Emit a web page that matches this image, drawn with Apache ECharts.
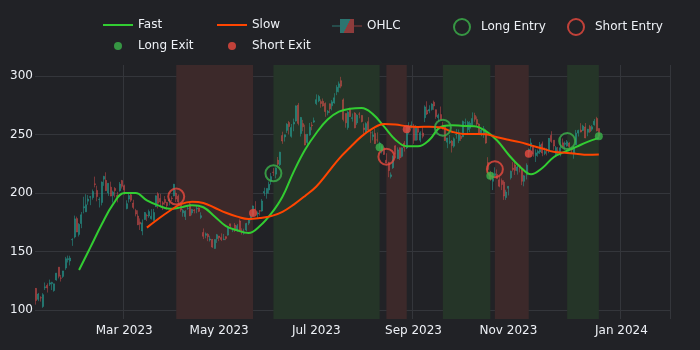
<!DOCTYPE html>
<html>
<head>
<meta charset="utf-8">
<script src="https://cdn.jsdelivr.net/npm/echarts@6/dist/echarts.min.js"></script>
<style>
  html, body { margin: 0; padding: 0; background: #212226; }
  #chart { width: 700px; height: 350px; }
</style>
</head>
<body>
<div id="chart"></div>
<script>
// daily OHLC, one entry per trading day (index 0 = first session)
const opens = [
  118.5,109.1,110.5,103.0,119.0,121.1,122.1,122.6,116.6,125.7,
  136.6,127.3,128.7,135.9,143.0,141.9,160.0,162.4,178.1,164.6,
  173.9,187.3,183.9,193.0,196.4,196.1,207.8,202.2,194.4,191.9,
  211.8,210.8,200.0,205.0,197.9,203.9,197.9,202.0,210.6,206.2,
  186.7,194.8,198.5,191.4,185.0,180.3,175.1,167.5,177.3,180.8,
  180.4,178.1,176.5,188.3,199.3,195.3,191.7,194.4,192.0,193.1,
  195.6,197.5,199.9,197.3,190.5,183.1,179.9,186.7,190.7,183.0,
  185.4,186.3,187.2,179.1,166.2,163.8,164.7,159.8,160.3,152.6,
  160.9,163.2,161.9,160.0,162.7,164.0,173.7,169.0,172.6,168.7,
  176.1,167.7,165.6,168.4,174.2,177.2,180.7,186.2,182.1,184.9,
  184.6,200.1,199.8,202.6,210.2,217.8,216.1,228.0,224.2,249.1,
  247.9,253.5,260.2,248.4,258.9,261.5,275.1,250.8,259.3,250.1,
  243.2,249.7,258.0,260.6,276.5,278.8,278.1,278.4,276.5,268.6,
  276.3,274.6,277.0,286.6,290.2,296.0,279.6,268.0,255.9,272.4,
  263.7,268.3,259.9,267.5,266.3,255.6,252.0,261.0,251.5,248.2,
  250.9,245.4,241.8,235.7,238.7,228.0,226.1,214.1,221.6,240.3,
  229.3,238.7,231.3,242.6,238.6,254.2,256.0,257.3,245.0,255.1,
  245.1,251.2,264.3,270.8,270.1,271.3,277.6,271.2,264.4,267.0,
  257.9,257.4,243.4,243.0,244.3,240.0,250.0,244.8,248.6,248.1,
  260.0,254.0,255.3,257.8,266.2,262.9,258.9,250.1,250.1,252.7,
  226.0,217.0,210.0,215.0,215.9,211.3,210.6,209.3,196.1,204.0,
  213.0,221.2,224.0,219.0,223.2,219.8,210.0,215.6,235.0,239.3,
  239.5,232.0,234.0,235.0,242.0,233.8,236.9,236.7,249.2,245.1,
  233.1,235.8,233.9,242.9,241.6,240.3,242.7,238.6,234.1,241.2,
  251.2,253.8,253.5,256.4,251.9,256.8,254.5,258.4,263.7,255.1
];
const highs = [
  118.8,114.6,111.8,114.4,123.5,122.8,126.0,124.1,122.6,131.7,
  136.7,130.0,133.5,145.4,146.5,146.4,161.4,180.7,179.8,174.3,
  183.8,196.8,199.0,198.2,197.5,203.0,214.0,206.2,196.3,209.8,
  214.7,217.7,208.4,209.7,202.0,205.1,201.0,209.4,211.2,207.2,
  193.8,200.5,199.6,194.2,186.5,185.2,178.3,177.4,183.8,182.3,
  185.8,186.2,186.4,198.0,200.7,199.3,193.0,197.4,192.4,195.3,
  197.3,207.8,202.7,198.7,190.7,186.4,185.3,189.2,191.6,186.5,
  186.3,189.7,187.7,183.5,169.7,166.3,165.7,163.5,160.7,160.5,
  165.0,163.3,165.5,165.0,163.0,170.8,173.8,169.8,174.4,173.6,
  177.4,169.8,169.5,174.5,177.1,181.9,189.3,193.0,184.2,185.3,
  194.8,204.5,204.0,209.8,217.2,221.3,221.9,230.8,235.2,252.4,
  250.0,259.7,261.6,259.0,263.6,274.8,277.0,265.0,262.5,258.4,
  250.4,259.9,260.7,264.5,284.3,283.9,280.0,280.8,277.5,270.9,
  276.5,279.5,285.3,292.2,295.3,299.3,280.9,268.0,269.9,272.9,
  268.0,269.1,267.3,269.1,266.5,259.5,260.5,264.8,253.7,252.8,
  254.9,251.8,243.8,240.7,240.5,234.0,226.7,217.6,232.1,240.8,
  239.0,238.9,239.0,244.4,257.5,260.5,261.2,259.1,258.0,255.4,
  252.8,256.5,274.9,278.4,275.0,276.7,279.0,271.4,267.9,273.9,
  260.9,257.8,247.1,249.6,245.3,247.6,254.8,254.3,250.0,261.9,
  263.6,261.7,261.4,268.9,268.6,265.4,259.6,255.4,257.2,254.6,
  230.6,218.9,217.0,222.0,220.1,214.8,212.4,210.9,202.8,206.0,
  219.2,226.4,226.3,223.1,224.2,220.8,215.4,225.4,238.1,246.7,
  240.9,237.4,237.1,243.6,244.0,238.8,238.3,247.0,252.8,245.2,
  240.2,239.4,246.7,246.6,244.1,245.3,243.4,239.0,240.3,253.9,
  254.1,259.7,258.3,259.8,254.8,258.2,258.0,263.3,265.1,255.2
];
const lows = [
  104.6,107.5,107.2,101.8,117.1,114.9,120.5,117.0,115.6,125.0,
  127.0,124.3,127.4,134.3,140.6,138.1,154.8,161.2,166.5,162.8,
  169.9,182.6,183.7,189.9,189.6,194.3,204.8,192.9,187.6,189.4,
  206.1,201.8,197.5,197.2,191.8,196.3,192.0,201.1,203.8,198.5,
  186.0,191.8,192.3,186.1,180.0,172.5,168.4,163.9,177.1,176.0,
  178.8,177.3,176.4,188.0,186.8,188.7,185.4,189.9,185.7,189.4,
  193.1,197.2,192.2,190.3,183.8,179.7,176.9,185.6,180.3,180.9,
  182.6,182.7,183.6,177.7,160.6,161.3,158.8,158.5,153.1,152.4,
  157.3,158.8,158.9,159.9,159.7,163.5,169.2,166.6,166.7,166.8,
  167.2,164.5,164.4,167.2,172.5,176.6,180.1,185.3,178.2,180.7,
  184.1,197.5,195.1,199.4,207.1,214.5,212.5,223.3,223.0,242.0,
  244.0,251.3,250.0,247.3,252.8,261.1,257.8,248.3,252.8,240.7,
  240.6,248.9,253.6,259.9,275.1,277.6,272.9,273.8,265.1,266.4,
  268.3,270.6,276.3,283.6,286.0,289.5,261.2,255.8,254.1,265.0,
  261.0,255.3,258.2,263.8,260.3,250.5,252.0,253.1,242.8,245.0,
  241.9,243.1,238.0,233.8,232.6,225.4,213.5,212.4,220.6,229.6,
  229.3,228.2,230.4,235.4,237.6,250.6,255.1,242.0,244.9,245.1,
  243.3,246.7,260.6,266.6,268.1,270.4,271.0,263.4,261.2,262.5,
  254.2,244.5,238.3,241.7,234.6,238.7,246.4,242.6,244.5,247.6,
  256.3,250.6,252.0,257.6,260.9,256.6,250.2,248.5,247.1,242.1,
  216.8,210.4,202.5,214.1,212.2,204.9,202.5,194.1,194.1,197.9,
  211.5,218.4,215.4,215.7,217.6,206.7,205.7,211.6,230.7,236.5,
  231.0,226.5,231.0,233.3,231.4,232.3,232.1,234.0,242.8,236.9,
  231.9,233.3,231.3,239.2,236.9,239.6,237.4,233.9,229.3,240.8,
  248.3,251.8,253.0,246.8,248.5,251.4,252.9,257.5,252.7,247.4
];
const closes = [
  108.1,113.6,110.3,113.1,119.8,118.9,123.2,123.6,122.4,131.5,
  128.8,127.2,133.4,143.8,143.9,144.4,160.3,177.9,166.7,173.2,
  181.4,188.3,190.0,194.8,196.8,201.3,207.3,196.9,194.6,209.3,
  214.2,202.0,208.3,197.4,200.9,202.1,196.9,207.6,205.7,202.8,
  190.9,197.8,193.8,187.7,182.0,172.9,173.4,174.5,183.3,180.5,
  184.1,180.1,183.3,197.6,191.2,192.2,190.4,191.8,189.2,193.9,
  195.3,207.5,194.8,192.6,185.5,185.1,184.5,186.8,180.5,185.9,
  185.0,187.0,184.3,180.6,163.0,165.1,162.6,160.7,153.8,160.2,
  164.3,161.8,160.3,160.6,161.2,170.1,171.8,169.2,168.5,172.1,
  168.0,166.4,166.5,173.9,176.9,180.1,188.9,185.8,182.9,184.5,
  193.2,201.2,203.9,207.5,214.0,217.6,221.3,224.6,234.9,244.4,
  249.8,258.7,256.8,255.9,260.5,274.5,259.5,264.6,256.6,241.1,
  250.2,256.2,257.5,261.8,279.8,282.5,276.5,274.4,269.6,269.8,
  272.0,277.9,281.4,290.4,293.3,291.3,262.9,260.0,269.1,265.3,
  264.4,255.7,266.4,267.4,261.1,254.1,259.3,253.9,251.5,249.7,
  242.2,245.3,242.7,239.8,233.0,225.6,219.2,215.5,231.3,233.2,
  236.9,230.0,238.6,238.8,257.2,256.9,258.1,245.0,256.5,251.9,
  251.5,248.5,273.6,267.5,271.3,276.0,274.4,265.3,266.5,262.6,
  255.7,244.9,247.0,244.1,240.5,246.4,250.2,251.6,246.5,261.2,
  260.1,260.5,259.7,263.6,263.0,258.9,251.1,253.9,254.9,242.7,
  220.1,212.0,212.1,216.5,212.4,205.8,207.3,197.4,200.8,205.7,
  218.5,220.0,219.3,222.2,222.1,210.0,214.7,223.7,237.4,242.8,
  233.6,234.3,235.6,241.2,234.2,235.5,236.1,246.7,244.1,240.1,
  238.8,235.6,238.7,239.4,242.6,243.8,239.7,237.0,239.3,251.1,
  253.5,252.1,257.2,247.1,254.5,252.5,256.6,261.4,253.2,248.5
];

// moving averages read every 5th session
const maDays = [19,24,29,34,39,44,49,54,59,64,69,74,79,84,89,94,99,104,109,114,119,124,
  129,134,139,144,149,154,159,164,169,174,179,184,189,194,199,204,209,214,219,224,229,234,239,244,249];
const fastMa = [134.2,153.5,173.0,190.3,199.9,200.0,193.7,189.4,186.5,187.7,189.6,187.8,180.0,171.7,
  168.1,165.7,171.7,182.3,196.8,218.3,237.0,251.3,262.8,269.5,272.1,272.6,267.4,256.7,245.6,239.9,
  239.9,245.4,256.4,257.9,257.3,257.0,252.8,244.9,232.9,222.7,216.0,221.3,230.6,235.3,239.4,243.7,247.1];
const slowMa = [null,null,null,null,null,null,170.4,177.8,184.6,190.5,192.6,191.5,187.4,183.1,179.8,
  177.8,178.6,180.2,183.9,190.1,197.5,205.6,217.1,229.2,239.1,248.4,255.3,259.0,258.6,257.0,256.5,
  256.6,256.0,252.4,250.5,250.4,250.2,247.6,245.5,243.5,240.7,238.0,235.2,234.4,233.5,232.7,232.9];

// signals: [session, price]
const longEntry = [[105, 216.8], [180, 255.8], [235, 244.4]];
const shortEntry = [[62, 196.9], [155, 231.0], [203, 220.3]];
const longExit = [[152, 239.2], [201, 214.8], [249, 248.5]];
const shortExit = [[96, 183.0], [164, 254.4], [218, 233.6]];

// position spans [from, to]
const longSpans = [[105, 152], [180, 201], [235, 249]];
const shortSpans = [[62, 96], [155, 164], [203, 218]];

// x axis: sessions plus the empty stretch to the right edge
const axisLength = 281;
const tickDays = [39, 81, 124, 167, 209, 259];
const tickNames = ['Mar 2023', 'May 2023', 'Jul 2023', 'Sep 2023', 'Nov 2023', 'Jan 2024'];

const axisDays = [];
for (let i = 0; i < axisLength; i++) axisDays.push(String(i));

const candles = opens.map((o, i) => [o, closes[i], lows[i], highs[i]]);
const fastPts = maDays.map((d, i) => [d, fastMa[i]]);
const slowPts = maDays.map((d, i) => [d, slowMa[i]]).filter(p => p[1] !== null);

const areas = [];
longSpans.forEach(s => areas.push([{ xAxis: s[0], itemStyle: { color: '#253528' } }, { xAxis: s[1] }]));
shortSpans.forEach(s => areas.push([{ xAxis: s[0], itemStyle: { color: '#3c292a' } }, { xAxis: s[1] }]));

const grey = '#34363b';
const txt = '#eef1f6';
const green = '#3cb44b';
const red = '#ea4a3f';
const fastColor = '#32cd32';
const slowColor = '#ff4500';
const font = 'DejaVu Sans';

// one legend per entry so each sits in its own column like the original
function legendAt(item, left, top, w, h, gap) {
  return {
    data: [item], left: left, top: top, padding: 0,
    itemWidth: w, itemHeight: h, selectedMode: false,
    textStyle: { color: txt, fontSize: 12, fontFamily: font, padding: [0, 0, 0, gap] }
  };
}
const lineIcon = 'path://M0,0H30V2H0Z';

const chart = echarts.init(document.getElementById('chart'));
chart.setOption({
  backgroundColor: '#212226',
  animation: false,
  textStyle: { fontFamily: font },
  grid: { left: 35, right: 30, top: 65, bottom: 31, outerBoundsMode: 'none' },
  legend: [
    legendAt({ name: 'Fast', icon: lineIcon, itemStyle: { color: fastColor, borderWidth: 0 } }, 103, 19, 30, 14, 0),
    legendAt({ name: 'Slow', icon: lineIcon, itemStyle: { color: slowColor, borderWidth: 0 } }, 217, 19, 30, 14, 0),
    legendAt({
      name: 'OHLC',
      icon: 'path://M0,6.5H8V7.5H0Z M8,0H22V14H8Z M22,6.5H30V7.5H22Z',
      itemStyle: {
        color: { type: 'linear', x: 0, y: 0, x2: 1, y2: 1,
          colorStops: [{ offset: 0, color: '#2b7570' }, { offset: 0.5, color: '#2b7570' },
                       { offset: 0.5, color: '#8e3c3c' }, { offset: 1, color: '#8e3c3c' }] },
        borderWidth: 0
      }
    }, 332, 19, 30, 14, 0),
    legendAt({ name: 'Long Entry', icon: 'circle',
      itemStyle: { color: 'rgba(0,0,0,0)', borderColor: green, borderWidth: 2 } }, 453, 18, 16, 16, 6),
    legendAt({ name: 'Short Entry', icon: 'circle',
      itemStyle: { color: 'rgba(0,0,0,0)', borderColor: red, borderWidth: 2 } }, 567, 18, 16, 16, 6),
    legendAt({ name: 'Long Exit', icon: 'circle', itemStyle: { color: green, borderWidth: 0 } }, 114, 40, 8, 8, 11),
    legendAt({ name: 'Short Exit', icon: 'circle', itemStyle: { color: red, borderWidth: 0 } }, 228, 40, 8, 8, 11)
  ],
  xAxis: {
    type: 'category',
    data: axisDays,
    boundaryGap: true,
    axisLine: { show: false },
    axisTick: { show: false },
    axisLabel: {
      interval: (i) => tickDays.includes(i),
      formatter: (v) => tickNames[tickDays.indexOf(Number(v))],
      color: txt, fontSize: 12, fontFamily: font, margin: 6
    },
    splitLine: {
      show: true,
      interval: (i) => tickDays.includes(i),
      lineStyle: { color: grey, width: 1 }
    }
  },
  yAxis: {
    type: 'value',
    min: 92.3,
    max: 309.4,
    splitNumber: 4,
    axisLine: { show: false },
    axisTick: { show: false },
    axisLabel: { color: txt, fontSize: 12, fontFamily: font, margin: 2, showMinLabel: false, showMaxLabel: false },
    splitLine: { lineStyle: { color: ['transparent', grey, grey, grey, grey, grey, 'transparent'], width: 1 } }
  },
  series: [
    {
      type: 'line', data: [], z: 0, silent: true,
      markArea: { silent: true, data: areas }
    },
    {
      name: 'OHLC', type: 'candlestick', data: candles, barWidth: 1.5, z: 2, silent: true,
      itemStyle: {
        color: 'rgba(38,166,154,0.5)', color0: 'rgba(239,83,80,0.42)',
        borderColor: 'rgba(38,166,154,0.5)', borderColor0: 'rgba(239,83,80,0.42)', borderWidth: 1
      }
    },
    {
      name: 'Fast', type: 'line', data: fastPts, symbol: 'none', smooth: 0.4, z: 3, silent: true,
      lineStyle: { color: fastColor, width: 2 }, itemStyle: { color: fastColor }
    },
    {
      name: 'Slow', type: 'line', data: slowPts, symbol: 'none', smooth: 0.4, z: 3, silent: true,
      lineStyle: { color: slowColor, width: 2 }, itemStyle: { color: slowColor }
    },
    {
      name: 'Long Entry', type: 'scatter', data: longEntry, symbolSize: 16, z: 4, silent: true,
      itemStyle: { color: 'rgba(0,0,0,0)', borderColor: green, borderWidth: 2 }
    },
    {
      name: 'Short Entry', type: 'scatter', data: shortEntry, symbolSize: 16, z: 4, silent: true,
      itemStyle: { color: 'rgba(0,0,0,0)', borderColor: red, borderWidth: 2 }
    },
    {
      name: 'Long Exit', type: 'scatter', data: longExit, symbolSize: 8, z: 4, silent: true,
      itemStyle: { color: green }
    },
    {
      name: 'Short Exit', type: 'scatter', data: shortExit, symbolSize: 8, z: 4, silent: true,
      itemStyle: { color: red }
    }
  ]
});
</script>
</body>
</html>
